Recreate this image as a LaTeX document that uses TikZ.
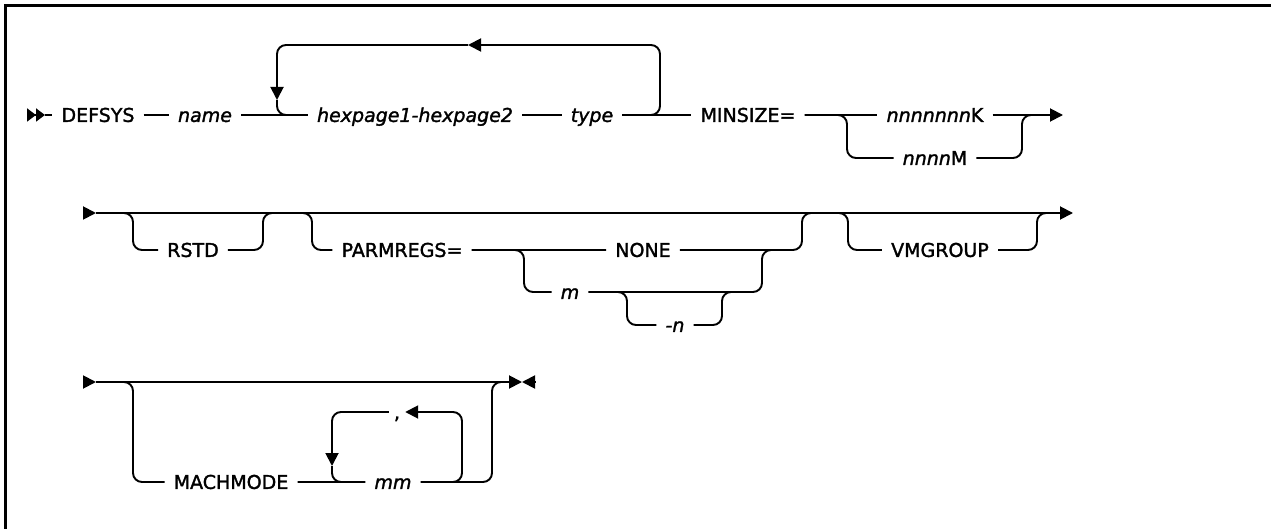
\documentclass[tikz,border=0pt]{standalone}
\usepackage{fontspec}
\setmainfont{DejaVu Sans}[FakeBold=1.6, ItalicFeatures={FakeBold=1.6}]
\usetikzlibrary{arrows.meta}

\begin{document}
\begin{tikzpicture}[
  x=1pt, y=-1pt,
  every node/.style={font=\fontsize{19}{21}\selectfont, inner xsep=9pt, inner ysep=0pt, text height=13.8pt, text depth=0pt},
  var/.style={font=\fontsize{19}{21}\selectfont\itshape},
  rail/.style={line width=1.9pt, rounded corners=9pt},
  tip/.style={-{Triangle[length=13pt,width=13pt]}},
  twotip/.style={-{Triangle[length=9pt,width=13pt]Triangle[length=9pt,width=13pt]}}
]
\useasboundingbox (0,0) rectangle (1271,529);
\draw[line width=3pt] (1271,5.5) -- (5.5,5.5) -- (5.5,529);

% first line
\node (defsys) at (98,115) {DEFSYS};
\node[var] (name) at (205,115) {name};
\node[var] (hexpage) at (415,115) {hexpage1-hexpage2};
\node[var] (type) at (592,115) {type};
\node (minsize) at (748,115) {MINSIZE=};
\node (kilo) at (935,115) {\textit{nnnnnnn}K};
\node (mega) at (935,158) {\textit{nnnn}M};
\coordinate (start1) at (28,115);
\coordinate (go1) at (45,115);
\coordinate (end1) at (1063,115);
\coordinate (loopin) at (640,115);
\coordinate (loopR) at (660,45);
\coordinate (loopA) at (468,45);
\coordinate (loopD) at (277,100);
\coordinate (loopout) at (300,115);
\coordinate (kdown) at (847,158);
\coordinate (krise) at (1022,115);
\coordinate (kjoin) at (1034,115);

\draw[rail,twotip] (start1) -- (go1);
\draw[rail] (go1) -- (defsys) -- (name) -- (hexpage) -- (type) -- (minsize) -- (kilo);
\draw[rail,tip] (kilo) -- (end1);
\draw[rail,tip] (loopin) -| (loopR) -- (loopA);
\draw[rail,tip] (loopA) -| (loopD);
\draw[rail] (loopD) |- (loopout);
\draw[rail] (minsize.east) -| (kdown) -- (mega);
\draw[rail] (mega) -| (krise) -- (kjoin);

% second line
\node (rstd) at (193,250) {RSTD};
\node (parmregs) at (402,250) {PARMREGS=};
\node (none) at (643,250) {NONE};
\node[var] (m) at (570,292) {m};
\node[var] (n) at (675,325) {-n};
\node (vmgroup) at (940,250) {VMGROUP};
\coordinate (start2) at (83,213);
\coordinate (go2) at (96,213);
\coordinate (end2) at (1073,213);
\coordinate (rstdin) at (121,213);
\coordinate (rstddown) at (133,250);
\coordinate (rstdup) at (263,213);
\coordinate (rstdout) at (275,213);
\coordinate (pin) at (300,213);
\coordinate (pdown) at (312,250);
\coordinate (pup) at (802,213);
\coordinate (pout) at (815,213);
\coordinate (msplit) at (512,250);
\coordinate (mdown) at (524,292);
\coordinate (mup) at (762,250);
\coordinate (mout) at (775,250);
\coordinate (nsplit) at (615,292);
\coordinate (ndown) at (627,325);
\coordinate (nup) at (722,292);
\coordinate (nout) at (735,292);
\coordinate (vin) at (836,213);
\coordinate (vdown) at (848,250);
\coordinate (vup) at (1037,213);
\coordinate (vout) at (1050,213);

\draw[rail,tip] (start2) -- (go2);
\draw[rail,tip] (go2) -- (end2);
\draw[rail] (rstdin) -| (rstddown) -- (rstd) -| (rstdup) -- (rstdout);
\draw[rail] (pin) -| (pdown) -- (parmregs) -- (none) -| (pup) -- (pout);
\draw[rail] (msplit) -| (mdown) -- (m) -| (mup) -- (mout);
\draw[rail] (nsplit) -| (ndown) -- (n) -| (nup) -- (nout);
\draw[rail] (vin) -| (vdown) -- (vmgroup) -| (vup) -- (vout);

% third line
\node (machmode) at (231,482) {MACHMODE};
\node[var] (mm) at (393,482) {mm};
\node[inner xsep=5pt] (comma) at (397,412) {,};
\coordinate (start3) at (83,382);
\coordinate (go3) at (96,382);
\coordinate (end3) at (522,382);
\coordinate (stop) at (535,382);
\coordinate (bin) at (121,382);
\coordinate (bdown) at (133,482);
\coordinate (lpin) at (450,482);
\coordinate (lpR) at (462,412);
\coordinate (lpD) at (332,466);
\coordinate (lpout) at (345,482);
\coordinate (mmup) at (492,382);
\coordinate (mmout) at (504,382);

\draw[rail,tip] (start3) -- (go3);
\draw[rail,tip] (go3) -- (end3);
\draw[rail,tip] (stop) -- (end3);
\draw[rail] (bin) -| (bdown) -- (machmode) -- (mm) -| (mmup) -- (mmout);
\draw[rail,tip] (lpin) -| (lpR) -- (comma);
\draw[rail,tip] (comma) -| (lpD);
\draw[rail] (lpD) |- (lpout);
\end{tikzpicture}
\end{document}
